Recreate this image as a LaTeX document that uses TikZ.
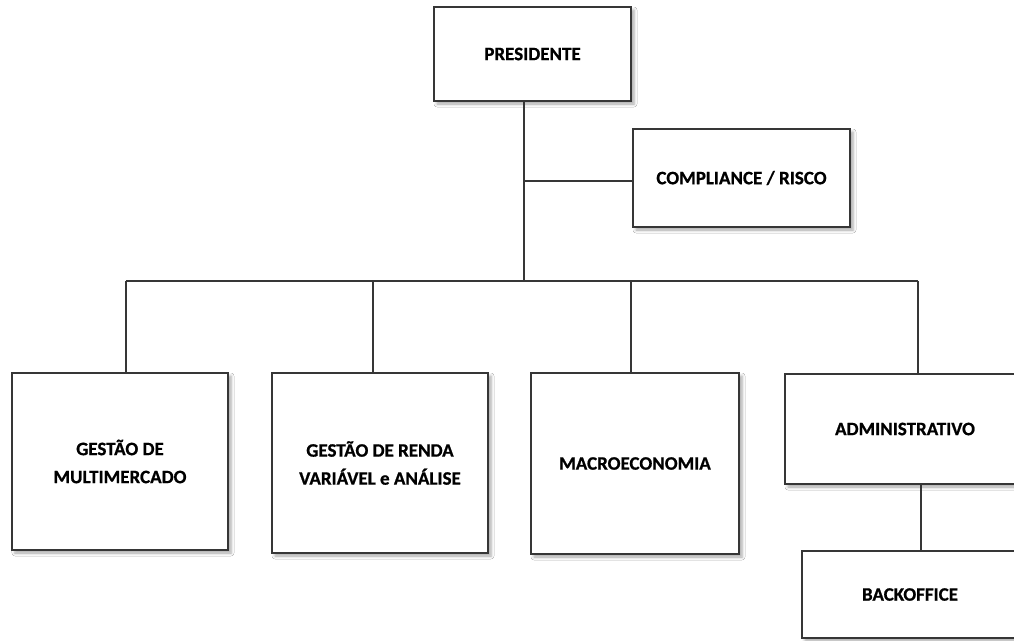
\documentclass[tikz,border=0pt]{standalone}
\usepackage{fontspec}
\setmainfont{Carlito}[BoldFeatures={FakeBold=0.8}]
\usetikzlibrary{shadows.blur}
\definecolor{edge}{HTML}{363636}
\tikzset{
  box/.style={draw=edge, line width=1.6pt, fill=white, inner sep=0pt, align=center,
    font={\fontsize{19}{28}\selectfont\bfseries}, text=black,
    blur shadow={shadow xshift=3pt, shadow yshift=-3pt, shadow blur radius=3pt, shadow opacity=35}},
  link/.style={draw=edge, line width=1.5pt}
}
\begin{document}
\begin{tikzpicture}[x=1pt,y=-1pt]
\clip (0,0) rectangle (1014,640);
\fill[white] (0,0) rectangle (1014,640);
\node[box, minimum width=197pt, minimum height=94pt] (pres) at (532.5,54) {PRESIDENTE};
\node[box, minimum width=217pt, minimum height=98pt] (comp) at (741.5,178) {COMPLIANCE / RISCO};
\node[box, minimum width=216pt, minimum height=177pt] (b1) at (120,461.5) {GESTÃO DE\\MULTIMERCADO};
\node[box, minimum width=216pt, minimum height=180pt] (b2) at (380,463) {GESTÃO DE RENDA\\VARIÁVEL e ANÁLISE};
\node[box, minimum width=208pt, minimum height=181pt] (b3) at (635,463.5) {MACROECONOMIA};
\node[box, minimum width=240pt, minimum height=110pt] (adm) at (905,429) {ADMINISTRATIVO};
\node[box, minimum width=216pt, minimum height=87pt] (back) at (910,594.5) {BACKOFFICE};
\coordinate (d0) at (524,281);
\coordinate (d1) at (126,281);
\coordinate (d2) at (373,281);
\coordinate (d3) at (631,281);
\coordinate (d4) at (918,281);
\draw[link] (pres.south -| d0) -- (d0);
\draw[link] ([yshift=-3pt]comp.west) -- ([yshift=-3pt]comp.west -| d0);
\draw[link] (d1) -- (d4);
\draw[link] (d1) -- (d1 |- b1.north);
\draw[link] (d2) -- (d2 |- b2.north);
\draw[link] (d3) -- (d3 |- b3.north);
\draw[link] (d4) -- (d4 |- adm.north);
\draw[link] ([xshift=16pt]adm.south) -- ([xshift=16pt]adm.south |- back.north);
\end{tikzpicture}
\end{document}
